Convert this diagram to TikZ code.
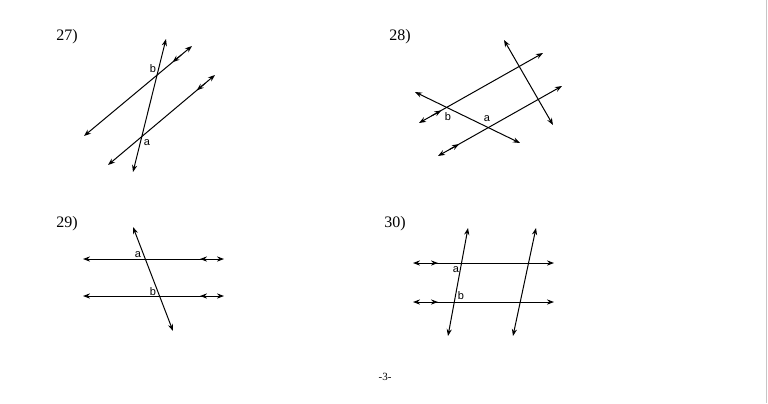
\documentclass[tikz,border=0pt]{standalone}
\usepackage{fontspec}
\setmainfont{Liberation Serif}
\newfontfamily\lblfont{Liberation Sans}
\usetikzlibrary{arrows.meta,calc}

\tikzset{
  line/.style={line width=0.5pt, {Stealth[length=3.5pt,width=2.6pt]}-{Stealth[length=3.5pt,width=2.6pt]}},
  partick/.style={line width=0.5pt, -{Stealth[length=3.5pt,width=2.6pt]}},
  num/.style={font=\fontsize{8}{9}\selectfont},
  lbl/.style={font=\lblfont\fontsize{5.5}{6}\selectfont, inner sep=0pt},
}

\begin{document}
\begin{tikzpicture}[x=0.5pt,y=-0.5pt]
\useasboundingbox (0,0) rectangle (768,403);
\draw[gray!45, line width=0.5pt] (766.5,0)--(766.5,403);

% 27
\node[num] (n27) at (67,37) {27)};
\coordinate (t27a) at (166,39);  \coordinate (t27b) at (133,172);
\coordinate (p27a) at (192,46);  \coordinate (p27b) at (84,136);
\coordinate (q27a) at (215,75);  \coordinate (q27b) at (108,165);
\draw[line] (t27a)--(t27b);
\draw[line] (p27a)--(p27b);
\draw[line] (q27a)--(q27b);
\draw[partick] ($(p27a)!0.10!(p27b)$)--($(p27a)!0.18!(p27b)$);
\draw[partick] ($(q27a)!0.09!(q27b)$)--($(q27a)!0.17!(q27b)$);
\node[lbl] (b27) at (153,69) {b};
\node[lbl] (a27) at (147,143) {a};

% 28
\node[num] (n28) at (400,37) {28)};
\coordinate (t28a) at (415,92);  \coordinate (t28b) at (520,143);
\coordinate (s28a) at (504,40);  \coordinate (s28b) at (553,125);
\coordinate (p28a) at (419,123); \coordinate (p28b) at (543,53);
\coordinate (q28a) at (438,156); \coordinate (q28b) at (562,86);
\draw[line] (t28a)--(t28b);
\draw[line] (s28a)--(s28b);
\draw[line] (p28a)--(p28b);
\draw[line] (q28a)--(q28b);
\draw[partick] ($(p28a)!0.10!(p28b)$)--($(p28a)!0.18!(p28b)$);
\draw[partick] ($(q28a)!0.09!(q28b)$)--($(q28a)!0.17!(q28b)$);
\node[lbl] (b28) at (448,117) {b};
\node[lbl] (a28) at (487,119) {a};

% 29
\node[num] (n29) at (67,224) {29)};
\draw[line] (133,227)--(173,331);
\foreach \y in {259,296}{
  \draw[line] (83,\y)--(224,\y);
  \draw[partick] (211,\y)--(200,\y);
}
\node[lbl] (a29) at (138,255) {a};
\node[lbl] (b29) at (153,292) {b};

% 30
\node[num] (n30) at (395,224) {30)};
\draw[line] (468,228)--(448,336);
\draw[line] (536,228)--(513,336);
\foreach \y in {263,302}{
  \draw[line] (413,\y)--(554,\y);
  \draw[partick] (426,\y)--(438,\y);
}
\node[lbl] (a30) at (456,270) {a};
\node[lbl] (b30) at (461,296) {b};

\node[font=\fontsize{5.5}{6}\selectfont] (pg) at (385,377) {-3-};
\end{tikzpicture}
\end{document}
